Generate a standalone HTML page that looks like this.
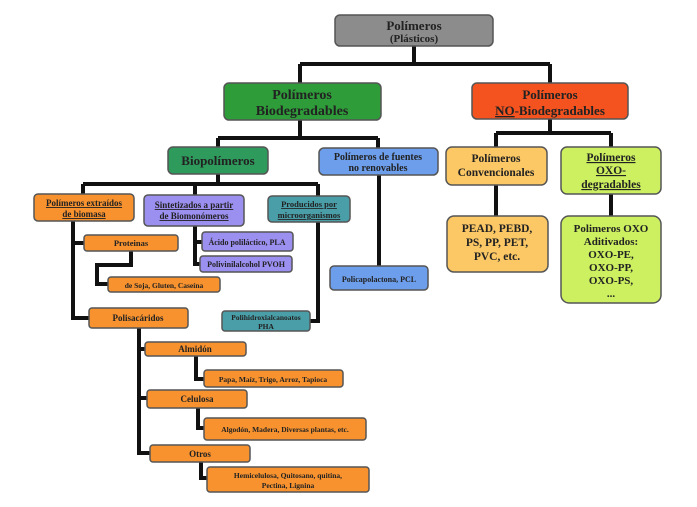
<!DOCTYPE html>
<html><head><meta charset="utf-8"><style>
body{margin:0;background:#fff}
svg text{font-family:"Liberation Serif",serif;font-weight:bold;fill:#222}
</style></head><body>
<svg width="697" height="502" viewBox="0 0 697 502" xmlns="http://www.w3.org/2000/svg">
<g stroke="#111" stroke-width="4" fill="none">
<path d="M414 46V64M300 64H550M300 64V83M550 64V83"/>
<path d="M300 120V138M218 138H378M218 138V147M378 138V148"/>
<path d="M550 119V133M496 133H611M496 133V147M611 133V147"/>
<path d="M496 185V216M611 194V216M379 175V266"/>
<path d="M218 174V184M83 184H318M83 184V194M195 184V195M318 184V196"/>
<path d="M73 221V318H89M73 243H84"/>
<path d="M131 251V265H97V284H108"/>
<path d="M195 226V264H200M195 242H202"/>
<path d="M318 222V321H310"/>
<path d="M139 328V453H150M139 349H145M139 398H147"/>
<path d="M196 356V379H204M198 408V428H204M201 462V478H207"/>
</g>
<g stroke="#555" stroke-width="1.5">
<rect x="335" y="15" width="158" height="31" rx="5" fill="#8c8c8c"/>
<rect x="224" y="83" width="157" height="37" rx="5" fill="#2f9c3a"/>
<rect x="472" y="83" width="156" height="36" rx="5" fill="#f4521f"/>
<rect x="168" y="147" width="100" height="27" rx="5" fill="#2e9a5c"/>
<rect x="319" y="148" width="119" height="27" rx="5" fill="#6d9eeb"/>
<rect x="446" y="147" width="101" height="38" rx="6" fill="#fcc865"/>
<rect x="561" y="147" width="100" height="47" rx="6" fill="#ccf060"/>
<rect x="447" y="216" width="101" height="56" rx="7" fill="#fcc865"/>
<rect x="561" y="216" width="100" height="87" rx="8" fill="#ccf060"/>
<rect x="330" y="266" width="98" height="24" rx="4" fill="#6d9eeb"/>
<rect x="34" y="194" width="100" height="27" rx="4" fill="#f7922f"/>
<rect x="144" y="195" width="100" height="31" rx="4" fill="#9b8ff0"/>
<rect x="268" y="196" width="82" height="26" rx="4" fill="#4a9ea8"/>
<rect x="202" y="232" width="91" height="19" rx="3" fill="#9b8ff0"/>
<rect x="200" y="256" width="92" height="16" rx="3" fill="#9b8ff0"/>
<rect x="84" y="235" width="94" height="16" rx="3" fill="#f7922f"/>
<rect x="108" y="277" width="112" height="15" rx="3" fill="#f7922f"/>
<rect x="89" y="308" width="99" height="20" rx="3" fill="#f7922f"/>
<rect x="222" y="311" width="88" height="20" rx="3" fill="#4a9ea8"/>
<rect x="145" y="342" width="101" height="14" rx="3" fill="#f7922f"/>
<rect x="204" y="370" width="139" height="17" rx="3" fill="#f7922f"/>
<rect x="147" y="390" width="100" height="18" rx="3" fill="#f7922f"/>
<rect x="204" y="418" width="162" height="22" rx="3" fill="#f7922f"/>
<rect x="150" y="445" width="100" height="17" rx="3" fill="#f7922f"/>
<rect x="207" y="467" width="162" height="25" rx="3" fill="#f7922f"/>
</g>
<g text-anchor="middle">
<text x="414" y="30" font-size="13">Polímeros</text>
<text x="414" y="42" font-size="11">(Plásticos)</text>
<text x="302" y="99" font-size="14">Polímeros</text>
<text x="302" y="115" font-size="14">Biodegradables</text>
<text x="550" y="99" font-size="13">Polímeros</text>
<text x="550" y="115" font-size="13"><tspan text-decoration="underline">NO</tspan>-Biodegradables</text>
<text x="218" y="165" font-size="13">Biopolímeros</text>
<text x="378" y="160" font-size="10">Polímeros de fuentes</text>
<text x="378" y="171" font-size="10">no renovables</text>
<text x="496" y="162" font-size="11.5">Polímeros</text>
<text x="496" y="176" font-size="11.5">Convencionales</text>
<text x="611" y="161" font-size="11.5" text-decoration="underline">Polímeros</text>
<text x="611" y="174" font-size="11.5" text-decoration="underline">OXO-</text>
<text x="611" y="188" font-size="11.5" text-decoration="underline">degradables</text>
<text x="497" y="232" font-size="11.5">PEAD, PEBD,</text>
<text x="497" y="246" font-size="11.5">PS, PP, PET,</text>
<text x="497" y="260" font-size="11.5">PVC, etc.</text>
<text x="611" y="232" font-size="11">Polimeros OXO</text>
<text x="611" y="245" font-size="11">Aditivados:</text>
<text x="611" y="258" font-size="11">OXO-PE,</text>
<text x="611" y="271" font-size="11">OXO-PP,</text>
<text x="611" y="284" font-size="11">OXO-PS,</text>
<text x="611" y="297" font-size="11">...</text>
<text x="379" y="282" font-size="8" font-weight="normal">Policapolactona, PCL</text>
<text x="84" y="206" font-size="9" text-decoration="underline">Polímeros extraídos</text>
<text x="84" y="217" font-size="9" text-decoration="underline">de biomasa</text>
<text x="194" y="208" font-size="9" text-decoration="underline">Sintetizados a partir</text>
<text x="194" y="219" font-size="9" text-decoration="underline">de Biomonómeros</text>
<text x="309" y="207" font-size="8.5" text-decoration="underline">Producidos por</text>
<text x="309" y="218" font-size="8.5" text-decoration="underline">microorganismos</text>
<text x="247" y="245" font-size="8" font-weight="normal">Ácido poliláctico, PLA</text>
<text x="246" y="267" font-size="8" font-weight="normal">Polivinilalcohol PVOH</text>
<text x="131" y="246" font-size="8.5" font-weight="normal">Proteinas</text>
<text x="164" y="288" font-size="7.5" font-weight="normal">de Soja, Gluten, Caseína</text>
<text x="138" y="321" font-size="9" font-weight="normal">Polisacáridos</text>
<text x="266" y="320" font-size="7.5" font-weight="normal">Polihidroxialcanoatos</text>
<text x="266" y="329" font-size="7.5" font-weight="normal">PHA</text>
<text x="195" y="352" font-size="9" font-weight="normal">Almidón</text>
<text x="273" y="382" font-size="7.5" font-weight="normal">Papa, Maíz, Trigo, Arroz, Tapioca</text>
<text x="197" y="402" font-size="9" font-weight="normal">Celulosa</text>
<text x="285" y="432" font-size="7.5" font-weight="normal">Algodón, Madera, Diversas plantas, etc.</text>
<text x="200" y="457" font-size="9" font-weight="normal">Otros</text>
<text x="288" y="478" font-size="7.5" font-weight="normal">Hemicelulosa, Quitosano, quitina,</text>
<text x="288" y="488" font-size="7.5" font-weight="normal">Pectina, Lignina</text>
</g>
</svg>
</body></html>
